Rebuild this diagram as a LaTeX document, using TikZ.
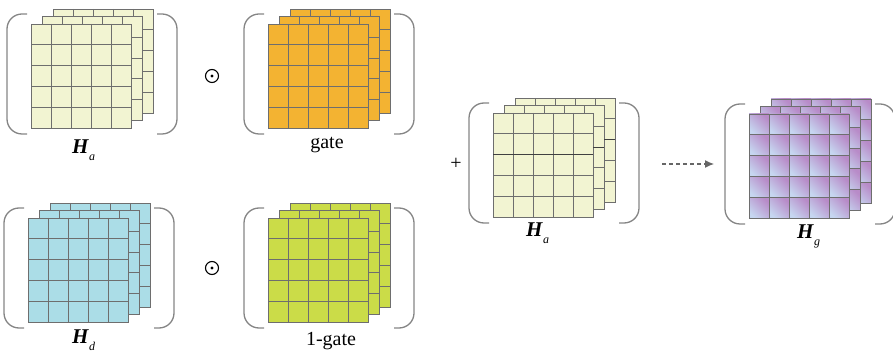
\documentclass[tikz,border=0pt]{standalone}
\usepackage{fontspec}
\setmainfont{Liberation Serif}
\usetikzlibrary{arrows.meta}
\definecolor{cY}{HTML}{F2F4D2}
\definecolor{cO}{HTML}{F3B332}
\definecolor{cB}{HTML}{ABDDE7}
\definecolor{cG}{HTML}{CBDC48}
\definecolor{cP}{HTML}{B88BC8}
\definecolor{cL}{HTML}{C6D6F0}
\definecolor{glc}{HTML}{6E6E6E}
\definecolor{brc}{HTML}{858585}
\tikzset{
  gline/.style={draw=glc,line width=0.9pt},
  gdark/.style={draw=black!75,line width=1.1pt},
  brk/.style={draw=brc,line width=1.3pt,rounded corners=15pt},
  cellY/.style={fill=cY}, cellO/.style={fill=cO}, cellB/.style={fill=cB},
  cellG/.style={fill=cG},
  cellP/.style={top color=cP,bottom color=cL,shading angle=-45},
  lab/.style={inner sep=0pt,font=\fontsize{21}{21}\selectfont},
  txt/.style={inner sep=0pt,font=\fontsize{20}{20}\selectfont},
  arr/.style={draw=black!60,line width=1.2pt,dash pattern=on 4pt off 3pt,-{Latex[length=9pt,width=8pt]}},
}
\newcommand\gridlayer[3]{%
 \foreach \i in {0,...,4}{\foreach \j in {0,...,4}{%
   \path[#3] ({#1+20*\i},{-(#2)-20.8*\j}) rectangle ++(20,-20.8);}}%
 \foreach \i in {1,...,4}{%
   \draw[gline] ({#1+20*\i},{-(#2)}) -- ++(0,-104);
   \draw[gline] ({#1},{-(#2)-20.8*\i}) -- ++(100,0);}%
 \draw[gline] ({#1},{-(#2)}) rectangle ++(100,-104);}
\newcommand\tstack[4]{% name x y cellstyle
 \gridlayer{#2+22}{#3-15}{#4}%
 \gridlayer{#2+11}{#3-7.5}{#4}%
 \gridlayer{#2}{#3}{#4}%
 \coordinate (#1) at ({#2+50},{-(#3)-52});
 \draw[brk] ({#2-4},{-(#3)+10}) -- ({#2-24},{-(#3)+10}) -- ({#2-24},{-(#3)-110}) -- ({#2-4},{-(#3)-110});
 \draw[brk] ({#2+126},{-(#3)+10}) -- ({#2+146},{-(#3)+10}) -- ({#2+146},{-(#3)-110}) -- ({#2+126},{-(#3)-110});}
\newcommand\Hlab[1]{\textbf{\textit{H}}\raisebox{-7pt}{\fontsize{12}{12}\selectfont\textit{#1}}}
\begin{document}
\begin{tikzpicture}[x=1pt,y=1pt]
\useasboundingbox (0,0) rectangle (893,-352);
\tstack{sA}{31}{24}{cellY}
\tstack{sG}{268}{24}{cellO}
\tstack{sD}{28}{218}{cellB}
\tstack{sN}{268}{218}{cellG}
\tstack{sC}{493}{113}{cellY}
\draw[gdark] (493,-154.6) -- ++(100,0);
\draw[gdark] (593,-147.1) -- ++(11,0);
\draw[gdark] (604,-139.6) -- ++(11,0);
\tstack{sH}{749}{114}{cellP}
% labels
\node[lab,anchor=base west] (lA) at (72,-154) {\Hlab{a}};
\node[txt,anchor=base] (lG) at (327,-149) {gate};
\node[lab,anchor=base west] (lD) at (72,-343) {\Hlab{d}};
\node[txt,anchor=base] (lN) at (331,-345) {1-gate};
\node[lab,anchor=base west] (lC) at (526,-237) {\Hlab{a}};
\node[lab,anchor=base west] (lH) at (797,-239) {\Hlab{g}};
% operators
\node[circle,draw=black,line width=1.1pt,minimum size=13pt,inner sep=0pt] (o1) at (212,-76) {};
\fill (o1.center) circle (1.6pt);
\node[circle,draw=black,line width=1.1pt,minimum size=13pt,inner sep=0pt] (o2) at (212,-268) {};
\fill (o2.center) circle (1.6pt);
\node[inner sep=0pt,font=\fontsize{20}{20}\selectfont] (pl) at (456,-164) {+};
% arrow
\coordinate (a1) at (662,-164);
\coordinate (a2) at (714,-164);
\draw[arr] (a1) -- (a2);
\end{tikzpicture}
\end{document}
